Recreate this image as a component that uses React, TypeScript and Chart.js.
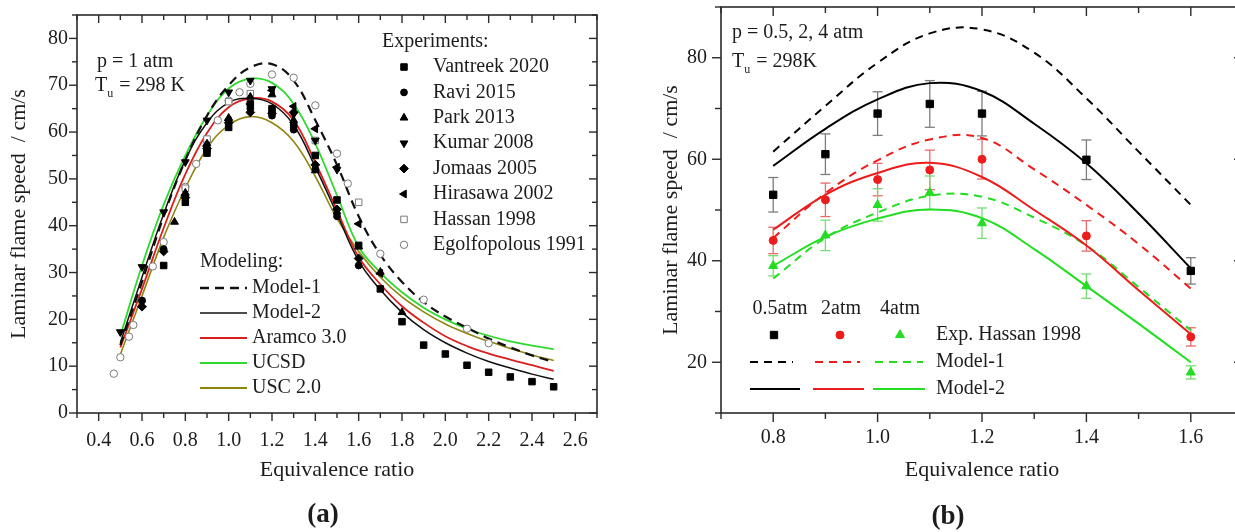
import { useEffect, useRef } from 'react';
import { Chart, registerables } from 'chart.js';

Chart.register(...registerables);

const FONT = '"Liberation Serif", "Times New Roman", Times, serif';
const INK = '#1c1c1c';
const FRAME = '#2a2a2a';

// ---------------- Panel (a): p = 1 atm, Tu = 298 K ----------------
const A_PHI = [0.5, 0.6, 0.7, 0.8, 0.9, 1.0, 1.1, 1.2, 1.3, 1.4, 1.5, 1.6, 1.7, 1.8, 1.9, 2.0, 2.1, 2.2, 2.3, 2.4, 2.5];
const A_MODEL1 = [14.5, 28.0, 42.0, 54.0, 63.5, 70.0, 73.8, 74.5, 71.0, 62.5, 53.0, 42.0, 33.8, 28.0, 23.7, 20.6, 18.2, 15.9, 14.0, 12.3, 10.9];
const A_MODEL2 = [15.0, 29.0, 42.5, 54.0, 62.0, 66.3, 67.2, 66.0, 61.5, 52.5, 42.5, 32.5, 26.3, 21.5, 17.8, 15.0, 12.8, 11.0, 9.6, 8.3, 7.2];
const A_ARAMCO = [14.0, 26.5, 39.5, 51.0, 59.8, 65.3, 67.2, 66.5, 62.5, 53.5, 43.3, 33.3, 27.5, 22.8, 19.3, 16.4, 14.3, 12.7, 11.4, 10.2, 9.0];
const A_UCSD = [16.5, 31.5, 44.5, 55.0, 63.5, 69.3, 71.4, 70.5, 66.0, 57.5, 46.5, 35.5, 30.0, 25.8, 22.5, 20.0, 18.0, 16.5, 15.3, 14.4, 13.6];
const A_USC = [12.5, 25.0, 37.5, 48.0, 56.5, 61.5, 63.3, 62.0, 58.0, 50.5, 41.5, 34.5, 29.0, 24.8, 21.6, 19.0, 17.0, 15.3, 13.8, 12.4, 11.2];

const VANTREEK_PHI = [0.7, 0.8, 0.9, 1.0, 1.1, 1.2, 1.3, 1.4, 1.5, 1.6, 1.7, 1.8, 1.9, 2.0, 2.1, 2.2, 2.3, 2.4, 2.5];
const VANTREEK_SL = [31.5, 45.0, 55.5, 61.0, 66.0, 65.0, 61.5, 55.0, 45.5, 35.8, 26.5, 19.5, 14.5, 12.6, 10.2, 8.7, 7.7, 6.7, 5.6];
const RAVI_PHI = [0.6, 0.7, 0.8, 0.9, 1.0, 1.1, 1.2, 1.3, 1.4, 1.5, 1.6];
const RAVI_SL = [24.0, 35.0, 46.0, 56.0, 62.5, 65.0, 63.5, 60.5, 52.0, 42.0, 31.5];
const PARK_PHI = [0.75, 0.8, 0.9, 1.0, 1.1, 1.2, 1.3, 1.4, 1.5, 1.6, 1.7, 1.8];
const PARK_SL = [40.8, 47.0, 57.5, 63.0, 67.5, 68.0, 62.5, 51.8, 43.0, 35.5, 30.1, 21.5];
const KUMAR_PHI = [0.5, 0.6, 0.7, 0.8, 0.9, 1.0, 1.1, 1.2, 1.3, 1.4, 1.5];
const KUMAR_SL = [17.3, 31.2, 42.9, 53.6, 62.5, 68.5, 71.0, 69.2, 63.8, 58.2, 52.0];
const JOMAAS_PHI = [0.6, 0.7, 0.8, 0.9, 1.0, 1.1, 1.2, 1.3, 1.4, 1.5, 1.6];
const JOMAAS_SL = [22.7, 34.5, 46.0, 56.5, 62.0, 64.2, 64.0, 64.2, 53.0, 43.5, 33.0];
const HIRASAWA_PHI = [0.8, 0.9, 1.0, 1.1, 1.2, 1.3, 1.4, 1.5, 1.6, 1.7];
const HIRASAWA_SL = [46.5, 57.0, 62.5, 66.0, 68.9, 65.5, 60.7, 52.5, 40.4, 29.8];
const HASSAN_PHI = [0.8, 0.9, 1.0, 1.1, 1.2, 1.4, 1.6];
const HASSAN_SL = [48.0, 58.5, 66.5, 68.2, 64.6, 58.2, 45.0];
const EGOLF_PHI = [0.47, 0.5, 0.54, 0.56, 0.6, 0.65, 0.7, 0.8, 0.85, 0.9, 0.95, 1.0, 1.05, 1.1, 1.2, 1.3, 1.4, 1.5, 1.55, 1.7, 1.9, 2.1, 2.2];
const EGOLF_SL = [8.4, 11.9, 16.3, 18.8, 24.0, 31.3, 36.5, 48.3, 53.2, 57.5, 62.5, 66.7, 68.5, 70.3, 72.3, 71.6, 65.7, 55.4, 49.0, 34.0, 24.2, 18.0, 14.9];

const A_XTICKS = [0.4, 0.6, 0.8, 1.0, 1.2, 1.4, 1.6, 1.8, 2.0, 2.2, 2.4, 2.6];
const A_YTICKS = [0, 10, 20, 30, 40, 50, 60, 70, 80];

// ---------------- Panel (b): p = 0.5, 2, 4 atm ----------------
const B_PHI = [0.8, 0.9, 1.0, 1.1, 1.2, 1.4, 1.6];
const B_EXP_05 = [53.0, 61.0, 69.0, 70.9, 69.0, 59.9, 38.0];
const B_ERR_05 = [3.4, 4.0, 4.3, 4.6, 4.4, 3.9, 2.6];
const B_EXP_2 = [44.0, 52.0, 56.0, 57.9, 60.0, 44.9, 25.0];
const B_ERR_2 = [2.6, 3.3, 3.2, 3.9, 3.9, 3.0, 1.8];
const B_EXP_4 = [39.0, 45.0, 51.0, 53.4, 47.4, 35.0, 18.0];
const B_ERR_4 = [2.0, 3.0, 3.2, 3.3, 3.0, 2.4, 1.3];

const B_MPHI = [0.8, 0.9, 1.0, 1.1, 1.2, 1.3, 1.4, 1.5, 1.6];
const B_M1_05 = [61.5, 70.5, 79.0, 84.8, 85.6, 81.0, 72.0, 61.5, 51.0];
const B_M2_05 = [58.7, 66.0, 71.8, 75.0, 73.4, 67.0, 59.2, 49.3, 38.5];
const B_M1_2 = [44.5, 53.3, 59.8, 63.9, 64.2, 58.0, 51.0, 43.3, 34.5];
const B_M2_2 = [46.1, 53.0, 57.3, 59.3, 56.5, 50.0, 43.0, 34.2, 25.5];
const B_M1_4 = [36.5, 44.5, 49.5, 52.8, 52.6, 48.5, 43.0, 34.8, 26.3];
const B_M2_4 = [39.0, 44.7, 48.3, 50.1, 48.4, 42.3, 35.0, 27.6, 20.0];

const B_XTICKS = [0.8, 1.0, 1.2, 1.4, 1.6];
const B_YTICKS = [20, 40, 60, 80];

// ---------------- helpers ----------------
type Kind = 'rect' | 'circle' | 'triUp' | 'triDown' | 'triLeft' | 'diamond';

function xy(xs: number[], ys: number[]) {
  return xs.map((x, i) => ({ x, y: ys[i] }));
}

function mids(a: number[]) {
  return a.slice(1).map((v, i) => (v + a[i]) / 2);
}

function pointStyleOf(kind: Kind): { style: string; rot: number } {
  switch (kind) {
    case 'rect': return { style: 'rect', rot: 0 };
    case 'circle': return { style: 'circle', rot: 0 };
    case 'triUp': return { style: 'triangle', rot: 0 };
    case 'triDown': return { style: 'triangle', rot: 180 };
    case 'triLeft': return { style: 'triangle', rot: 270 };
    default: return { style: 'rectRot', rot: 0 };
  }
}

function drawMarker(ctx: CanvasRenderingContext2D, kind: Kind, x: number, y: number, r: number, fill: string, stroke: string) {
  ctx.save();
  ctx.beginPath();
  const poly = (rotDeg: number, n: number) => {
    let a = (rotDeg * Math.PI) / 180;
    for (let i = 0; i < n; i++) {
      const px = x + Math.sin(a) * r;
      const py = y - Math.cos(a) * r;
      if (i === 0) ctx.moveTo(px, py); else ctx.lineTo(px, py);
      a += (2 * Math.PI) / n;
    }
    ctx.closePath();
  };
  if (kind === 'rect') {
    const s = r * Math.SQRT1_2;
    ctx.rect(x - s, y - s, 2 * s, 2 * s);
  } else if (kind === 'circle') {
    ctx.arc(x, y, r, 0, Math.PI * 2);
  } else if (kind === 'triUp') poly(0, 3);
  else if (kind === 'triDown') poly(180, 3);
  else if (kind === 'triLeft') poly(270, 3);
  else poly(0, 4);
  ctx.fillStyle = fill;
  ctx.fill();
  ctx.strokeStyle = stroke;
  ctx.lineWidth = 1;
  ctx.stroke();
  ctx.restore();
}

function text(ctx: CanvasRenderingContext2D, s: string, x: number, y: number, size = 20, align: CanvasTextAlign = 'left', bold = false) {
  ctx.save();
  ctx.font = `${bold ? 'bold ' : ''}${size}px ${FONT}`;
  ctx.fillStyle = INK;
  ctx.textAlign = align;
  ctx.textBaseline = 'middle';
  ctx.fillText(s, x, y);
  ctx.restore();
}

function textTu(ctx: CanvasRenderingContext2D, rest: string, x: number, y: number, size = 20) {
  ctx.save();
  ctx.fillStyle = INK;
  ctx.textBaseline = 'middle';
  ctx.textAlign = 'left';
  ctx.font = `${size}px ${FONT}`;
  ctx.fillText('T', x, y);
  const w = ctx.measureText('T').width;
  ctx.font = `${Math.round(size * 0.62)}px ${FONT}`;
  ctx.fillText('u', x + w, y + size * 0.38);
  const wu = ctx.measureText('u').width;
  ctx.font = `${size}px ${FONT}`;
  ctx.fillText(rest, x + w + wu + 1, y);
  ctx.restore();
}

function textV(ctx: CanvasRenderingContext2D, s: string, x: number, y: number, size = 22) {
  ctx.save();
  ctx.translate(x, y);
  ctx.rotate(-Math.PI / 2);
  ctx.font = `${size}px ${FONT}`;
  ctx.fillStyle = INK;
  ctx.textAlign = 'center';
  ctx.textBaseline = 'middle';
  ctx.fillText(s, 0, 0);
  ctx.restore();
}

function seg(ctx: CanvasRenderingContext2D, x1: number, y1: number, x2: number, y2: number, color: string, lw: number, dash: number[] = []) {
  ctx.save();
  ctx.strokeStyle = color;
  ctx.lineWidth = lw;
  ctx.setLineDash(dash);
  ctx.beginPath();
  ctx.moveTo(x1, y1);
  ctx.lineTo(x2, y2);
  ctx.stroke();
  ctx.restore();
}

interface TickSpec { xMajor: number[]; xMinor: number[]; yMajor: number[]; yMinor: number[]; maj: number; min: number; }

function drawFrame(chart: any, t: TickSpec) {
  const ctx: CanvasRenderingContext2D = chart.ctx;
  const { left, right, top, bottom } = chart.chartArea;
  const xs = chart.scales.x;
  const ys = chart.scales.y;
  ctx.save();
  ctx.strokeStyle = FRAME;
  ctx.lineWidth = 1.6;
  ctx.strokeRect(left, top, right - left, bottom - top);
  const xt = (vals: number[], len: number) => vals.forEach((v) => {
    const p = xs.getPixelForValue(v);
    seg(ctx, p, bottom, p, bottom + len, FRAME, 1.4);
    seg(ctx, p, top, p, top + len, FRAME, 1.4);
  });
  const yt = (vals: number[], len: number) => vals.forEach((v) => {
    const p = ys.getPixelForValue(v);
    seg(ctx, left, p, left - len, p, FRAME, 1.4);
    seg(ctx, right, p, right - len, p, FRAME, 1.4);
  });
  xt(t.xMajor, t.maj);
  xt(t.xMinor, t.min);
  yt(t.yMajor, t.maj);
  yt(t.yMinor, t.min);
  ctx.restore();
}

function zeroPad(s: any) {
  s.paddingTop = 0;
  s.paddingBottom = 0;
  s.paddingLeft = 0;
  s.paddingRight = 0;
}

function axisX(min: number, max: number, ticks: number[], pad: number, height: number) {
  return {
    type: 'linear', min, max,
    grid: { display: false, drawTicks: false, tickLength: 0 },
    border: { display: false },
    ticks: { color: INK, font: { family: FONT, size: 20 }, padding: pad, maxRotation: 0, autoSkip: false, callback: (v: any) => Number(v).toFixed(1) },
    afterBuildTicks: (s: any) => { s.ticks = ticks.map((value) => ({ value })); },
    afterFit: (s: any) => { s.height = height; zeroPad(s); },
  };
}

function axisY(min: number, max: number, ticks: number[], pad: number, width: number) {
  return {
    type: 'linear', min, max,
    grid: { display: false, drawTicks: false, tickLength: 0 },
    border: { display: false },
    ticks: { color: INK, font: { family: FONT, size: 20 }, padding: pad, autoSkip: false, callback: (v: any) => String(Math.round(Number(v))) },
    afterBuildTicks: (s: any) => { s.ticks = ticks.map((value) => ({ value })); },
    afterFit: (s: any) => { s.width = width; zeroPad(s); },
  };
}

// ---------------- Panel (a) config ----------------
const A_EXP: { label: string; phi: number[]; sl: number[]; kind: Kind; r: number; open: boolean }[] = [
  { label: 'Vantreek 2020', phi: VANTREEK_PHI, sl: VANTREEK_SL, kind: 'rect', r: 4.6, open: false },
  { label: 'Ravi 2015', phi: RAVI_PHI, sl: RAVI_SL, kind: 'circle', r: 3.4, open: false },
  { label: 'Park 2013', phi: PARK_PHI, sl: PARK_SL, kind: 'triUp', r: 4.5, open: false },
  { label: 'Kumar 2008', phi: KUMAR_PHI, sl: KUMAR_SL, kind: 'triDown', r: 4.5, open: false },
  { label: 'Jomaas 2005', phi: JOMAAS_PHI, sl: JOMAAS_SL, kind: 'diamond', r: 4.4, open: false },
  { label: 'Hirasawa 2002', phi: HIRASAWA_PHI, sl: HIRASAWA_SL, kind: 'triLeft', r: 4.5, open: false },
  { label: 'Hassan 1998', phi: HASSAN_PHI, sl: HASSAN_SL, kind: 'rect', r: 4.6, open: true },
  { label: 'Egolfopolous 1991', phi: EGOLF_PHI, sl: EGOLF_SL, kind: 'circle', r: 3.7, open: true },
];

const A_MODELS: { label: string; sl: number[]; color: string; lw: number; dash: number[] }[] = [
  { label: 'Model-1', sl: A_MODEL1, color: '#111111', lw: 2.2, dash: [9, 6] },
  { label: 'Model-2', sl: A_MODEL2, color: '#111111', lw: 1.5, dash: [] },
  { label: 'Aramco 3.0', sl: A_ARAMCO, color: '#d91e1e', lw: 1.8, dash: [] },
  { label: 'UCSD', sl: A_UCSD, color: '#2fd92f', lw: 1.8, dash: [] },
  { label: 'USC 2.0', sl: A_USC, color: '#8f8410', lw: 1.6, dash: [] },
];

function configA(): any {
  const datasets: any[] = [];
  A_EXP.forEach((e) => {
    const ps = pointStyleOf(e.kind);
    datasets.push({
      label: e.label,
      data: xy(e.phi, e.sl),
      showLine: false,
      pointStyle: ps.style,
      rotation: ps.rot,
      pointRadius: e.r,
      pointBackgroundColor: e.open ? '#ffffff' : '#000000',
      pointBorderColor: e.open ? '#7a7a7a' : '#000000',
      pointBorderWidth: 1,
    });
  });
  A_MODELS.forEach((m) => {
    datasets.push({
      label: m.label,
      data: xy(A_PHI, m.sl),
      showLine: true,
      borderColor: m.color,
      borderWidth: m.lw,
      borderDash: m.dash,
      pointRadius: 0,
      tension: 0.4,
      fill: false,
    });
  });
  const ticks: TickSpec = {
    xMajor: A_XTICKS, xMinor: [0.3, ...mids(A_XTICKS), 2.7],
    yMajor: A_YTICKS, yMinor: [...mids(A_YTICKS), 85],
    maj: 8, min: 5,
  };
  const decor = {
    id: 'decorA',
    afterDraw(chart: any) {
      const ctx: CanvasRenderingContext2D = chart.ctx;
      drawFrame(chart, ticks);
      const { left, right, top, bottom } = chart.chartArea;
      text(ctx, 'Equivalence ratio', (left + right) / 2, 470, 22, 'center');
      textV(ctx, 'Laminar flame speed  / cm/s', 19, (top + bottom) / 2, 22);
      text(ctx, '(a)', 323, 515, 27, 'center', true);
      text(ctx, 'p = 1 atm', 97, 62, 20);
      textTu(ctx, ' = 298 K', 95, 86, 20);
      text(ctx, 'Experiments:', 382, 42, 20);
      A_EXP.forEach((e, i) => {
        const y = 67 + i * 25.4;
        drawMarker(ctx, e.kind, 404, y, e.r, e.open ? '#ffffff' : '#000000', e.open ? '#7a7a7a' : '#000000');
        text(ctx, e.label, 433, y, 20);
      });
      text(ctx, 'Modeling:', 200, 262, 20);
      A_MODELS.forEach((m, i) => {
        const y = 288 + i * 25;
        seg(ctx, 200, y, 247, y, m.color, m.lw + 0.2, m.dash);
        text(ctx, m.label, 252, y, 20);
      });
    },
  };
  return {
    type: 'scatter',
    data: { datasets },
    options: {
      responsive: false,
      animation: false,
      events: [],
      layout: { padding: { left: 0, top: 15, right: 23, bottom: 0 } },
      plugins: { legend: { display: false }, tooltip: { enabled: false }, title: { display: false } },
      scales: {
        x: axisX(0.3, 2.7, A_XTICKS, 16, 119),
        y: axisY(0, 85, A_YTICKS, 9, 77),
      },
    },
    plugins: [decor],
  };
}

// ---------------- Panel (b) config ----------------
const B_SERIES: { label: string; exp: number[]; err: number[]; m1: number[]; m2: number[]; color: string; errColor: string; kind: Kind; r: number }[] = [
  { label: '0.5atm', exp: B_EXP_05, err: B_ERR_05, m1: B_M1_05, m2: B_M2_05, color: '#000000', errColor: '#7c7c7c', kind: 'rect', r: 5.2 },
  { label: '2atm', exp: B_EXP_2, err: B_ERR_2, m1: B_M1_2, m2: B_M2_2, color: '#ec1c1c', errColor: '#e86a6a', kind: 'circle', r: 4 },
  { label: '4atm', exp: B_EXP_4, err: B_ERR_4, m1: B_M1_4, m2: B_M2_4, color: '#22dd22', errColor: '#74dc74', kind: 'triUp', r: 5.2 },
];

function configB(): any {
  const datasets: any[] = [];
  B_SERIES.forEach((s) => {
    const ps = pointStyleOf(s.kind);
    datasets.push({
      label: 'Exp ' + s.label,
      data: xy(B_PHI, s.exp),
      showLine: false,
      pointStyle: ps.style,
      rotation: ps.rot,
      pointRadius: s.r,
      pointBackgroundColor: s.color,
      pointBorderColor: s.color,
      pointBorderWidth: 1,
    });
  });
  B_SERIES.forEach((s) => {
    datasets.push({
      label: 'Model-1 ' + s.label,
      data: xy(B_MPHI, s.m1),
      showLine: true,
      borderColor: s.color,
      borderWidth: 2,
      borderDash: [8, 6],
      pointRadius: 0,
      tension: 0.4,
    });
    datasets.push({
      label: 'Model-2 ' + s.label,
      data: xy(B_MPHI, s.m2),
      showLine: true,
      borderColor: s.color,
      borderWidth: 2,
      pointRadius: 0,
      tension: 0.4,
    });
  });
  const ticks: TickSpec = {
    xMajor: B_XTICKS, xMinor: [0.7, ...mids(B_XTICKS), 1.7],
    yMajor: B_YTICKS, yMinor: [10, ...mids(B_YTICKS), 90],
    maj: 9, min: 6,
  };
  const decor = {
    id: 'decorB',
    beforeDatasetsDraw(chart: any) {
      const ctx: CanvasRenderingContext2D = chart.ctx;
      const xs = chart.scales.x;
      const ys = chart.scales.y;
      B_SERIES.forEach((s) => {
        B_PHI.forEach((phi, i) => {
          const px = xs.getPixelForValue(phi);
          const y1 = ys.getPixelForValue(s.exp[i] + s.err[i]);
          const y2 = ys.getPixelForValue(s.exp[i] - s.err[i]);
          seg(ctx, px, y1, px, y2, s.errColor, 1.3);
          seg(ctx, px - 5, y1, px + 5, y1, s.errColor, 1.3);
          seg(ctx, px - 5, y2, px + 5, y2, s.errColor, 1.3);
        });
      });
    },
    afterDraw(chart: any) {
      const ctx: CanvasRenderingContext2D = chart.ctx;
      drawFrame(chart, ticks);
      const { left, right, top, bottom } = chart.chartArea;
      text(ctx, 'Equivalence ratio', (left + right) / 2, 470, 22, 'center');
      textV(ctx, 'Laminar flame speed  / cm/s', 56, (top + bottom) / 2, 22);
      text(ctx, '(b)', 333, 517, 27, 'center', true);
      text(ctx, 'p = 0.5, 2, 4 atm', 117, 33, 20);
      textTu(ctx, ' = 298K', 117, 62, 20);
      const cols = [165, 226, 285];
      const markX = [159, 225, 285];
      const dashSeg = [[135, 178], [200, 245], [260, 308]];
      const solidSeg = [[135, 185], [198, 249], [258, 310]];
      B_SERIES.forEach((s, i) => {
        text(ctx, s.label, cols[i], 309, 20, 'center');
        drawMarker(ctx, s.kind, markX[i], 335, s.r, s.color, s.color);
        seg(ctx, dashSeg[i][0], 362, dashSeg[i][1], 362, s.color, 2, [8, 6]);
        seg(ctx, solidSeg[i][0], 389, solidSeg[i][1], 389, s.color, 2);
      });
      text(ctx, 'Exp. Hassan 1998', 321, 335, 20);
      text(ctx, 'Model-1', 321, 362, 20);
      text(ctx, 'Model-2', 321, 389, 20);
    },
  };
  return {
    type: 'scatter',
    data: { datasets },
    options: {
      responsive: false,
      animation: false,
      events: [],
      layout: { padding: { left: 0, top: 7, right: 32, bottom: 0 } },
      plugins: { legend: { display: false }, tooltip: { enabled: false }, title: { display: false } },
      scales: {
        x: axisX(0.7, 1.7, B_XTICKS, 13, 119),
        y: axisY(10, 90, B_YTICKS, 14, 106),
      },
    },
    plugins: [decor],
  };
}

export default function App() {
  const refA = useRef<HTMLCanvasElement>(null);
  const refB = useRef<HTMLCanvasElement>(null);
  useEffect(() => {
    const a = new Chart(refA.current as HTMLCanvasElement, configA());
    const b = new Chart(refB.current as HTMLCanvasElement, configB());
    return () => {
      a.destroy();
      b.destroy();
    };
  }, []);
  return (
    <div style={{ position: 'fixed', left: 0, top: 0, width: 1235, height: 532, overflow: 'hidden', background: '#ffffff' }}>
      <canvas ref={refA} width={620} height={532} style={{ position: 'absolute', left: 0, top: 0, width: 620, height: 532 }} />
      <canvas ref={refB} width={660} height={532} style={{ position: 'absolute', left: 615, top: 0, width: 660, height: 532 }} />
    </div>
  );
}
